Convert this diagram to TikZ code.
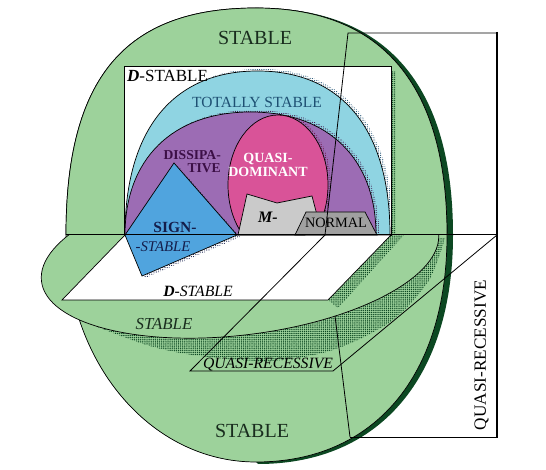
\documentclass[tikz,border=0pt]{standalone}
\usepackage{fontspec}
\setmainfont{Liberation Serif}
\usetikzlibrary{patterns.meta}
\definecolor{stablegreen}{RGB}{157,210,155}
\definecolor{rimgreen}{RGB}{12,72,34}
\definecolor{totalblue}{RGB}{143,212,226}
\definecolor{dissipurple}{RGB}{156,108,180}
\definecolor{quasipink}{RGB}{217,83,152}
\definecolor{signblue}{RGB}{80,164,222}
\definecolor{mgray}{RGB}{202,202,202}
\definecolor{normalgray}{RGB}{160,160,160}
\definecolor{totaltext}{RGB}{30,80,115}
\definecolor{dissitext}{RGB}{60,15,70}
\definecolor{signtext}{RGB}{20,30,75}
\definecolor{stabletext}{RGB}{25,45,30}
\definecolor{pinkdark}{RGB}{110,20,70}
\tikzstyle{outline} = [draw=black, line width=0.7pt]
\tikzstyle{plane} = [draw=black, line width=0.8pt]
\tikzstyle{lbl} = [inner sep=0pt, anchor=base]
\tikzstyle{greendots} = [pattern={Dots[distance=2.1pt, radius=0.75pt]}, pattern color=rimgreen]
\tikzstyle{bluedots} = [pattern={Dots[distance=2.2pt, radius=0.6pt]}, pattern color=totaltext]
\tikzstyle{purpledots} = [pattern={Dots[distance=2.2pt, radius=0.6pt]}, pattern color=dissitext]
\tikzstyle{pinkdots} = [pattern={Dots[distance=2.2pt, radius=0.6pt]}, pattern color=pinkdark]
\tikzstyle{navydots} = [pattern={Dots[distance=2.2pt, radius=0.6pt]}, pattern color=signtext]
\newcommand{\fsize}[1]{\fontsize{#1}{#1}\selectfont}
% half dome: centre x, base y, x radius, height, fullness
\newcommand{\dome}[5]{({#1-#3},#2) .. controls ({#1-#3},{#2-#5*#4}) and ({#1-#5*#3},{#2-#4}) .. (#1,{#2-#4}) .. controls ({#1+#5*#3},{#2-#4}) and ({#1+#3},{#2-#5*#4}) .. ({#1+#3},#2)}

\begin{document}
\begin{tikzpicture}[x=1pt,y=-1pt]
\useasboundingbox (0,0) rectangle (546,470);

% sphere with its dark rim
\fill[rimgreen] (258,8) .. controls (386,8) and (453,85) .. (453,235)
  .. controls (453,377) and (380,464) .. (258,464) -- (256,462)
  .. controls (150,462) and (66,362) .. (66,235)
  .. controls (66,78) and (125,8) .. (256,8) -- cycle;
\filldraw[fill=stablegreen, outline] (256,8) .. controls (382,8) and (447,85) .. (447,235)
  .. controls (447,376) and (374,462) .. (256,462)
  .. controls (150,462) and (66,362) .. (66,235)
  .. controls (66,78) and (125,8) .. (256,8) -- cycle;

% thickness of the disk
\fill[greendots] plot[smooth] coordinates {(95,326) (150,346) (200,356) (270,361) (333,350) (390,322) (428,282) (445,238)}
  -- (430,238) -- (330,300) -- (200,320) -- cycle;
\draw[plane] (325,235) -- (350,437);

% disk
\filldraw[fill=stablegreen, outline, shift={(240,257)}, rotate=7] (0,0) ellipse [x radius=200, y radius=78];
\fill[greendots] (328,300) -- (391,235) -- (404,235) -- (338,308) -- cycle;

% upper half covers the back of the disk
\filldraw[fill=stablegreen, outline] (66,235) .. controls (66,78) and (125,8) .. (256,8)
  .. controls (382,8) and (447,85) .. (447,235);

% D-stable sets
\filldraw[fill=white, outline] (124,66) rectangle (391,235);
\fill[greendots] (392,72) rectangle (395,235);
\filldraw[fill=white, outline] (125,235) -- (391,235) -- (328,300) -- (62,300) -- cycle;

\begin{scope}
  \clip (124,66) rectangle (391,235);
  \fill[bluedots, shift={(3,-2)}] \dome{257.5}{235}{132.5}{164}{0.64};
  \filldraw[fill=totalblue, outline] \dome{257.5}{235}{132.5}{164}{0.64};
  \fill[purpledots, shift={(3,-2)}] \dome{250.5}{235}{125.5}{123}{0.62};
  \filldraw[fill=dissipurple, outline] \dome{250.5}{235}{125.5}{123}{0.62};
\end{scope}

% sign-stable
\fill[navydots, shift={(3,2)}] (125,235) -- (174,163) -- (237,235) -- (142,276) -- cycle;
\filldraw[fill=signblue, outline] (125,235) -- (174,163) -- (237,235) -- (142,276) -- cycle;

\begin{scope}
  \clip (124,66) rectangle (391,235);
  \fill[pinkdots, shift={(3,-1)}] (278,185) ellipse [x radius=50, y radius=70];
  \filldraw[fill=quasipink, outline] (278,185) ellipse [x radius=50, y radius=70];
\end{scope}
\filldraw[fill=mgray, outline] (238,235) -- (247,194) -- (277,203) -- (312,196) -- (317,215) -- (305,235) -- cycle;
\filldraw[fill=normalgray, outline] (295,235) -- (306,212) -- (365,212) -- (377,235) -- cycle;

% planes
\draw[line width=1pt] (66,235) -- (497,235);
\draw[plane] (325,235) -- (190,371) -- (333,371) -- (497,235);
\draw[plane] (325,235) -- (348,33) -- (497,33);
\draw[plane] (350,437) -- (497,437);
\draw[line width=2.4pt] (497,32) -- (497,438);

% labels
\node (stabletop) [lbl, font=\fsize{20}, text=stabletext] at (255,45) {STABLE};
\node (dstable) [lbl, anchor=base west, font=\fsize{17}] at (127,82) {\textbf{\textit{D}}-STABLE};
\node (totally) [lbl, font=\fsize{15.5}, text=totaltext] at (257,108) {TOTALLY STABLE};
\node (dissipa) [lbl, anchor=base east, font=\bfseries\fsize{13.6}, text=dissitext] at (221,160) {DISSIPA-};
\node (tive) [lbl, anchor=base east, font=\bfseries\fsize{13.6}, text=dissitext] at (221,172.5) {TIVE};
\node (quasi) [lbl, font=\bfseries\fsize{14}, text=white] at (268,163) {QUASI-};
\node (dominant) [lbl, font=\bfseries\fsize{14}, text=white] at (268,177) {DOMINANT};
\node (sign) [lbl, font=\bfseries\fsize{15.5}, text=signtext] at (175,233) {SIGN-};
\node (signstable) [lbl, font=\itshape\fsize{14.8}, text=signtext] at (163,252) {-STABLE};
\node (mminus) [lbl, font=\bfseries\itshape\fsize{16}] at (268,223) {M-};
\node (normal) [lbl, font=\fsize{14.3}] at (336,228) {NORMAL};
\node (dstablelow) [lbl, font=\itshape\fsize{15.7}] at (198,297) {\textbf{D}-STABLE};
\node (stabledisk) [lbl, font=\itshape\fsize{16.8}, text=stabletext] at (164,330) {STABLE};
\node (quasirec) [lbl, font=\itshape\fsize{15.7}] at (268,368) {QUASI-RECESSIVE};
\node (stablelow) [lbl, font=\fsize{20}, text=stabletext] at (252,437) {STABLE};
\node (quasirecv) [inner sep=0pt, rotate=90, font=\fsize{17.2}] at (481.5,355) {QUASI-RECESSIVE};
\end{tikzpicture}
\end{document}
